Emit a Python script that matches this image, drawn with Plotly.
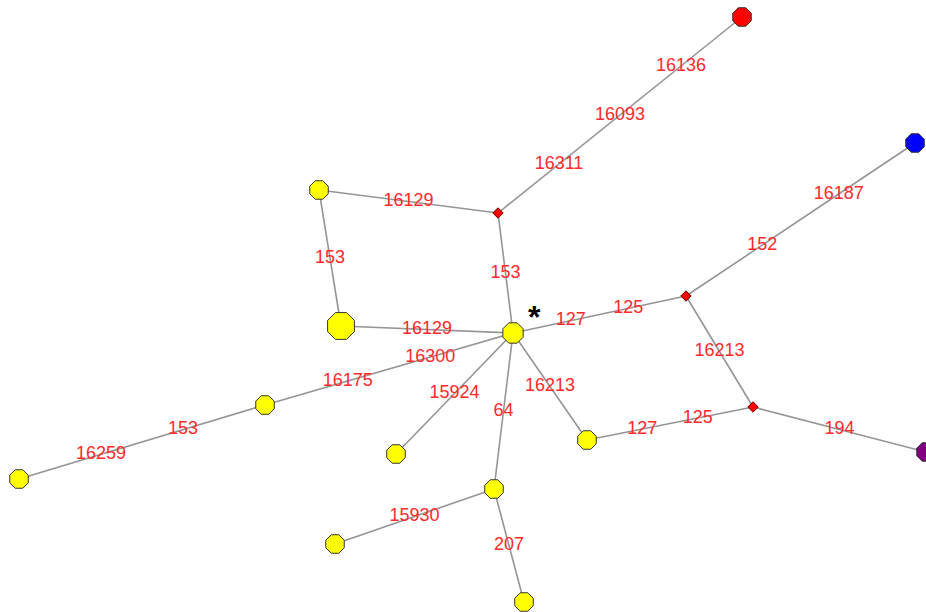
import plotly.graph_objects as go

# Haplotype network: nodes (samples and median vectors) and mutation-labelled links
node_ids = ["C", "B", "TL", "M1", "R", "M2", "BL", "M3", "P",
            "A", "L1", "L2", "D", "E", "F", "G"]
node_x = [513, 341, 319, 498, 742, 686, 915, 753, 926,
          587, 265, 19, 396, 494, 335, 524]
node_y = [333, 326, 190, 213, 17, 296, 143, 407, 452,
          440, 405, 479, 454, 489, 544, 602]
node_group = ["yellow", "yellow", "yellow", "median", "red", "median", "blue",
              "median", "purple", "yellow", "yellow", "yellow", "yellow",
              "yellow", "yellow", "yellow"]
node_count = [2, 3, 1, 0, 1, 0, 1, 0, 1, 1, 1, 1, 1, 1, 1, 1]

edge_from = ["C", "M1", "TL", "B", "M1", "C", "M2", "M2", "A", "M3",
             "C", "L1", "C", "C", "C", "E", "E"]
edge_to = ["M1", "TL", "B", "C", "R", "M2", "BL", "M3", "M3", "P",
           "L1", "L2", "D", "A", "E", "F", "G"]
edge_labels = [
    ["153"], ["16129"], ["153"], ["16129"],
    ["16311", "16093", "16136"],
    ["127", "125"], ["152", "16187"], ["16213"],
    ["127", "125"], ["194"],
    ["16300", "16175"], ["153", "16259"],
    ["15924"], ["16213"], ["64"], ["15930"], ["207"],
]

group_fill = {"yellow": "#ffff00", "red": "#ff0000", "blue": "#0000ff",
              "purple": "#800080", "median": "#ff0000"}

pos = {n: (x, y) for n, x, y in zip(node_ids, node_x, node_y)}

fig = go.Figure()

# links
ex, ey = [], []
for a, b in zip(edge_from, edge_to):
    ex += [pos[a][0], pos[b][0], None]
    ey += [pos[a][1], pos[b][1], None]
fig.add_trace(go.Scatter(x=ex, y=ey, mode="lines",
                         line=dict(color="#959595", width=1.6),
                         hoverinfo="skip", showlegend=False))

# mutation labels spaced evenly along each link
lx, ly, lt = [], [], []
for a, b, labs in zip(edge_from, edge_to, edge_labels):
    (x0, y0), (x1, y1) = pos[a], pos[b]
    n = len(labs)
    for k, lab in enumerate(labs, start=1):
        t = k / (n + 1)
        lx.append(x0 + (x1 - x0) * t)
        ly.append(y0 + (y1 - y0) * t)
        lt.append(lab)
fig.add_trace(go.Scatter(x=lx, y=ly, mode="text", text=lt,
                         textposition="middle center",
                         textfont=dict(family="Liberation Sans, Arial, sans-serif",
                                       size=18, color="#ff2a2a"),
                         hoverinfo="skip", showlegend=False))

# nodes
for grp in ["median", "yellow", "red", "blue", "purple"]:
    idx = [i for i, g in enumerate(node_group) if g == grp]
    xs = [node_x[i] for i in idx]
    ys = [node_y[i] for i in idx]
    if grp == "median":
        marker = dict(symbol="diamond", size=8, color=group_fill[grp],
                      opacity=1, line=dict(color="#600000", width=1))
    else:
        sizes = [{1: 20, 2: 22, 3: 29}[node_count[i]] for i in idx]
        marker = dict(symbol="octagon", size=sizes, color=group_fill[grp],
                      opacity=1, line=dict(color="#333333", width=1))
    fig.add_trace(go.Scatter(x=xs, y=ys, mode="markers", marker=marker,
                             text=[node_ids[i] for i in idx],
                             hoverinfo="text", showlegend=False))

# asterisk marking the central haplotype
fig.add_annotation(x=pos["C"][0] + 21, y=pos["C"][1] - 16, text="<b>*</b>",
                   showarrow=False,
                   font=dict(family="Liberation Sans, Arial, sans-serif",
                             size=32, color="#000000"))

fig.update_xaxes(range=[0, 926], visible=False, fixedrange=True)
fig.update_yaxes(range=[612, 0], visible=False, fixedrange=True)
fig.update_layout(width=926, height=612,
                  margin=dict(l=0, r=0, t=0, b=0),
                  paper_bgcolor="white", plot_bgcolor="white")

fig.write_html("out.html")
